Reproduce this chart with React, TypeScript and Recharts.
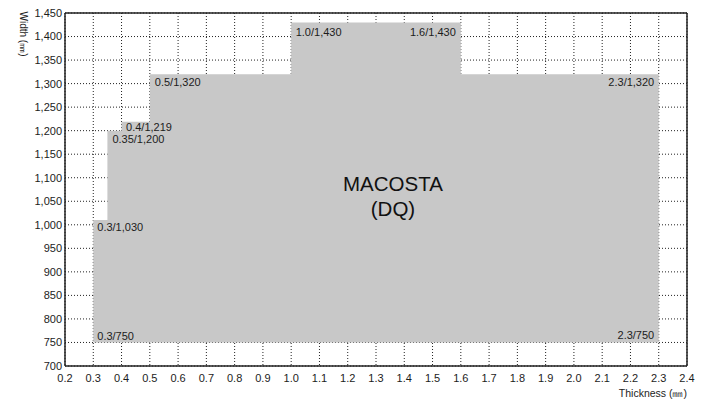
import { ComposedChart, Area, XAxis, YAxis, CartesianGrid, ReferenceLine, ReferenceDot } from 'recharts';

// stepped outline of the available range
const thickness = [0.3, 0.35, 0.4, 0.5, 1.0, 1.6, 2.3];
const widthMax = [1010, 1200, 1219, 1320, 1430, 1320, 1320];
const widthMin = 750;

const xTicks = [0.2, 0.3, 0.4, 0.5, 0.6, 0.7, 0.8, 0.9, 1.0, 1.1, 1.2, 1.3, 1.4, 1.5, 1.6, 1.7, 1.8, 1.9, 2.0, 2.1, 2.2, 2.3, 2.4];
const yTicks = [700, 750, 800, 850, 900, 950, 1000, 1050, 1100, 1150, 1200, 1250, 1300, 1350, 1400, 1450];

// corner annotations
const noteX = [0.3, 0.35, 0.4, 0.5, 1.0, 1.6, 2.3, 0.3, 2.3];
const noteY = [1010, 1200, 1219, 1320, 1430, 1430, 1320, 750, 750];
const noteText = ['0.3/1,030', '0.35/1,200', '0.4/1,219', '0.5/1,320', '1.0/1,430', '1.6/1,430', '2.3/1,320', '0.3/750', '2.3/750'];

const gradeName = ['MACOSTA', '(DQ)'];

const data = thickness.map((t, i) => ({ t, w: widthMax[i] }));

// offsets of each annotation from its corner point
const notePlace: [number, number, 'start' | 'end'][] = [
  [4, 11, 'start'],
  [5, 12.5, 'start'],
  [4.5, 9.5, 'start'],
  [5, 11.5, 'start'],
  [4.5, 13.3, 'start'],
  [-5, 13.3, 'end'],
  [-4.5, 11.5, 'end'],
  [4, -2.5, 'start'],
  [-4.5, -3, 'end'],
];

const font = '"Liberation Sans", Arial, sans-serif';
const ink = '#1c1c1c';

export default function App() {
  return (
    <div style={{ position: 'absolute', left: 0, top: 0 }}>
      <ComposedChart
        width={702}
        height={413}
        data={data}
        margin={{ top: 13, right: 15, bottom: 0, left: 0 }}
        style={{ fontFamily: font }}
      >
        <CartesianGrid stroke="#222" strokeDasharray="1 2" />
        <XAxis
          dataKey="t"
          type="number"
          domain={[0.2, 2.4]}
          ticks={xTicks}
          tickFormatter={(v: number) => v.toFixed(1)}
          tickLine={false}
          tick={{ fill: ink, fontSize: 11 }}
          axisLine={{ stroke: '#222', strokeWidth: 1.5 }}
          height={47}
          interval={0}
          label={{
            content: (p: any) => (
              <text x={p.viewBox.x + p.viewBox.width} y={p.viewBox.y + 31} textAnchor="end" fill={ink} fontSize={10.5}>
                Thickness (㎜)
              </text>
            ),
          }}
        />
        <YAxis
          type="number"
          domain={[700, 1450]}
          ticks={yTicks}
          tickFormatter={(v: number) => v.toLocaleString('en-US')}
          tickLine={false}
          tickSize={3}
          tickMargin={0}
          tick={{ fill: ink, fontSize: 11 }}
          axisLine={{ stroke: '#222', strokeWidth: 1.5 }}
          width={65}
          interval={0}
          label={{
            content: () => (
              <text
                x={23}
                y={34}
                textAnchor="middle"
                dominantBaseline="central"
                transform="rotate(90 23 34)"
                fill={ink}
                fontSize={10}
              >
                Width (㎜)
              </text>
            ),
          }}
        />
        <Area
          type="stepAfter"
          dataKey="w"
          baseValue={widthMin}
          fill="#c8c8c8"
          fillOpacity={1}
          stroke="none"
          dot={false}
          activeDot={false}
          isAnimationActive={false}
        />
        <ReferenceLine y={1450} stroke="#222" strokeWidth={1.5} />
        <ReferenceLine x={2.4} stroke="#222" strokeWidth={1.5} />
        {noteText.map((txt, i) => (
          <ReferenceDot
            key={txt}
            x={noteX[i]}
            y={noteY[i]}
            r={0}
            fill="none"
            stroke="none"
            label={{
              content: (p: any) => (
                <text
                  x={p.viewBox.x + notePlace[i][0]}
                  y={p.viewBox.y + notePlace[i][1]}
                  textAnchor={notePlace[i][2]}
                  fill={ink}
                  fontSize={11}
                >
                  {txt}
                </text>
              ),
            }}
          />
        ))}
        <ReferenceDot
          x={1.36}
          y={1072}
          r={0}
          fill="none"
          stroke="none"
          label={{
            content: (p: any) => (
              <text x={p.viewBox.x} y={p.viewBox.y} textAnchor="middle" fill="#111" fontSize={20.5}>
                <tspan x={p.viewBox.x} dy={0}>{gradeName[0]}</tspan>
                <tspan x={p.viewBox.x} dy={25}>{gradeName[1]}</tspan>
              </text>
            ),
          }}
        />
      </ComposedChart>
    </div>
  );
}
